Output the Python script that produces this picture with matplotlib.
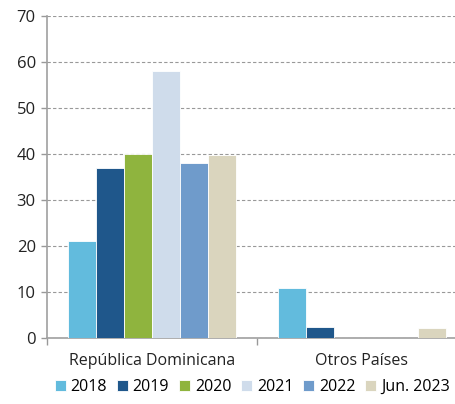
import matplotlib
matplotlib.use("Agg")
import matplotlib.pyplot as plt
import numpy as np

plt.rcParams['font.family'] = ['Open Sans', 'DejaVu Sans']

categories = ["República Dominicana", "Otros Países"]
series_labels = ["2018", "2019", "2020", "2021", "2022", "Jun. 2023"]
values = {
    "2018": [21.1, 10.8],
    "2019": [37.0, 2.5],
    "2020": [40.1, 0.0],
    "2021": [58.1, 0.0],
    "2022": [38.0, 0.0],
    "Jun. 2023": [39.8, 2.1],
}
colors = ["#62BBDD", "#1F578B", "#8FB43E", "#CFDCEB", "#6F9BCB", "#DAD5BE"]
yticks = [0, 10, 20, 30, 40, 50, 60, 70]

fig = plt.figure(figsize=(4.56, 4.04), dpi=100)
ax = fig.add_axes([0.103, 0.163, 0.921, 0.797])

x = np.arange(len(categories))
w = 0.8 / len(series_labels)
handles = []
for i, (lab, c) in enumerate(zip(series_labels, colors)):
    pos = x - 0.4 + w * (i + 0.5)
    b = ax.bar(pos, values[lab], width=w, color=c, edgecolor="white", linewidth=0.6, label=lab, zorder=3)
    handles.append(b)

ax.set_xlim(-0.5, 1.5)
ax.set_ylim(0, 70)
ax.set_yticks(yticks)
ax.set_yticklabels([str(v) for v in yticks], fontsize=12, color="#222222")
ax.yaxis.grid(True, linestyle=(0, (3, 2)), color="#999999", linewidth=0.8, zorder=0)
ax.set_axisbelow(True)

ax.set_xticks([-0.5, 0.5, 1.5])
ax.set_xticklabels([])
ax.set_xticks(x, minor=True)
ax.set_xticklabels(categories, minor=True, fontsize=11.5, color="#222222")
ax.tick_params(axis="x", which="minor", length=0, pad=11)
ax.tick_params(axis="x", which="major", length=5, color="#999999", width=1)
ax.tick_params(axis="y", length=4, color="#999999", width=1, pad=4)

for s in ["top", "right"]:
    ax.spines[s].set_visible(False)
for s in ["left", "bottom"]:
    ax.spines[s].set_color("#A0A0A0")
    ax.spines[s].set_linewidth(1.2)

fig.legend(handles=handles, labels=series_labels, loc="center", bbox_to_anchor=(0.553, 0.042),
           ncol=6, frameon=False, fontsize=11.5, handlelength=0.7, handleheight=0.7,
           handletextpad=0.3, columnspacing=0.6, borderaxespad=0)

fig.savefig("out.png", dpi=100)
